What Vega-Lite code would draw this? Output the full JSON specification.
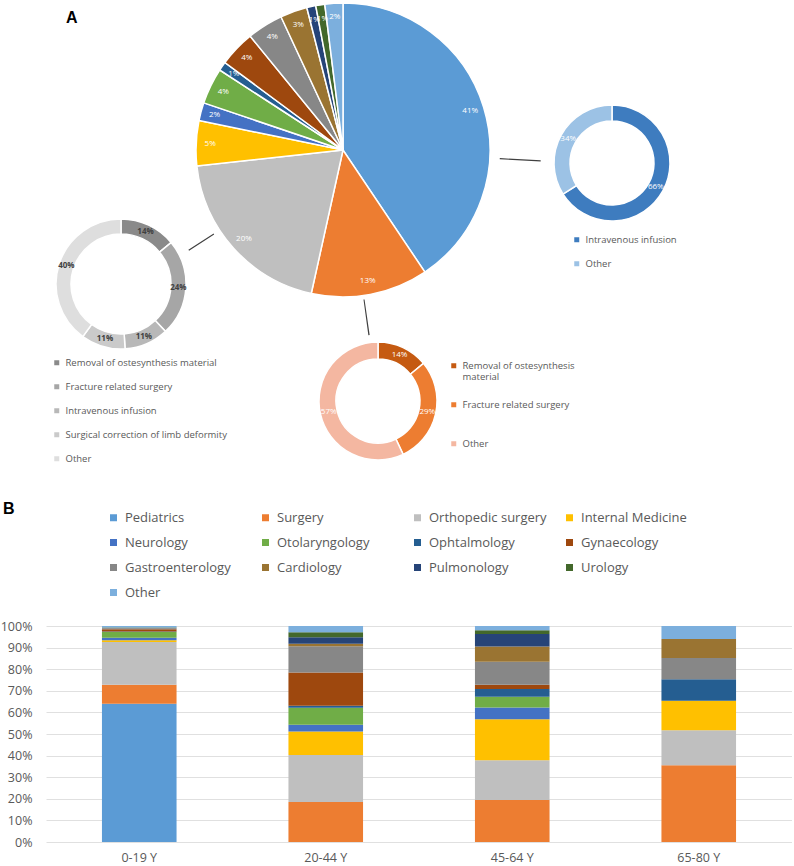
{
  "$schema": "https://vega.github.io/schema/vega-lite/v6.json",
  "padding": 0,
  "autosize": {"type": "pad"},
  "background": "white",
  "config": {
    "view": {"stroke": null},
    "font": "Open Sans",
    "legend": {"labelFont": "Open Sans", "titleFont": "Open Sans"},
    "axis": {"labelFont": "Open Sans"}
  },
  "datasets": {
    "main": [
      {"dept": "Pediatrics", "value": 41, "label": "41%"},
      {"dept": "Surgery", "value": 13, "label": "13%"},
      {"dept": "Orthopedic surgery", "value": 20, "label": "20%"},
      {"dept": "Internal Medicine", "value": 5, "label": "5%"},
      {"dept": "Neurology", "value": 2, "label": "2%"},
      {"dept": "Otolaryngology", "value": 4, "label": "4%"},
      {"dept": "Ophtalmology", "value": 1, "label": "1%"},
      {"dept": "Gynaecology", "value": 4, "label": "4%"},
      {"dept": "Gastroenterology", "value": 4, "label": "4%"},
      {"dept": "Cardiology", "value": 3, "label": "3%"},
      {"dept": "Pulmonology", "value": 1, "label": "1%"},
      {"dept": "Urology", "value": 1, "label": "1%"},
      {"dept": "Other", "value": 2, "label": "2%"}
    ],
    "ortho": [
      {"part": "Removal of ostesynthesis material", "value": 14, "label": "14%"},
      {"part": "Fracture related surgery", "value": 24, "label": "24%"},
      {"part": "Intravenous infusion", "value": 11, "label": "11%"},
      {"part": "Surgical correction of limb deformity", "value": 11, "label": "11%"},
      {"part": "Other", "value": 40, "label": "40%"}
    ],
    "surg": [
      {"part": "Removal of ostesynthesis material", "value": 14, "label": "14%"},
      {"part": "Fracture related surgery", "value": 29, "label": "29%"},
      {"part": "Other", "value": 57, "label": "57%"}
    ],
    "iv": [
      {"part": "Intravenous infusion", "value": 66, "label": "66%"},
      {"part": "Other", "value": 34, "label": "34%"}
    ],
    "bars": [
      {"age": "0-19 Y", "dept": "Pediatrics", "share": 64},
      {"age": "0-19 Y", "dept": "Surgery", "share": 8.8},
      {"age": "0-19 Y", "dept": "Orthopedic surgery", "share": 19.8},
      {"age": "0-19 Y", "dept": "Internal Medicine", "share": 0.8},
      {"age": "0-19 Y", "dept": "Neurology", "share": 1.2},
      {"age": "0-19 Y", "dept": "Otolaryngology", "share": 2.6},
      {"age": "0-19 Y", "dept": "Ophtalmology", "share": 0.3},
      {"age": "0-19 Y", "dept": "Gynaecology", "share": 1.0},
      {"age": "0-19 Y", "dept": "Gastroenterology", "share": 0.3},
      {"age": "0-19 Y", "dept": "Cardiology", "share": 0.2},
      {"age": "0-19 Y", "dept": "Pulmonology", "share": 0.1},
      {"age": "0-19 Y", "dept": "Urology", "share": 0.2},
      {"age": "0-19 Y", "dept": "Other", "share": 0.7},
      {"age": "20-44 Y", "dept": "Surgery", "share": 18.5},
      {"age": "20-44 Y", "dept": "Orthopedic surgery", "share": 21.8},
      {"age": "20-44 Y", "dept": "Internal Medicine", "share": 10.8},
      {"age": "20-44 Y", "dept": "Neurology", "share": 3.2},
      {"age": "20-44 Y", "dept": "Otolaryngology", "share": 7.9},
      {"age": "20-44 Y", "dept": "Ophtalmology", "share": 0.9},
      {"age": "20-44 Y", "dept": "Gynaecology", "share": 15.4},
      {"age": "20-44 Y", "dept": "Gastroenterology", "share": 12.1},
      {"age": "20-44 Y", "dept": "Cardiology", "share": 1.2},
      {"age": "20-44 Y", "dept": "Pulmonology", "share": 3.0},
      {"age": "20-44 Y", "dept": "Urology", "share": 2.3},
      {"age": "20-44 Y", "dept": "Other", "share": 2.9},
      {"age": "45-64 Y", "dept": "Surgery", "share": 19.5},
      {"age": "45-64 Y", "dept": "Orthopedic surgery", "share": 18.3},
      {"age": "45-64 Y", "dept": "Internal Medicine", "share": 19.0},
      {"age": "45-64 Y", "dept": "Neurology", "share": 5.5},
      {"age": "45-64 Y", "dept": "Otolaryngology", "share": 4.9},
      {"age": "45-64 Y", "dept": "Ophtalmology", "share": 3.6},
      {"age": "45-64 Y", "dept": "Gynaecology", "share": 2.0},
      {"age": "45-64 Y", "dept": "Gastroenterology", "share": 10.7},
      {"age": "45-64 Y", "dept": "Cardiology", "share": 7.0},
      {"age": "45-64 Y", "dept": "Pulmonology", "share": 5.8},
      {"age": "45-64 Y", "dept": "Urology", "share": 1.7},
      {"age": "45-64 Y", "dept": "Other", "share": 2.0},
      {"age": "65-80 Y", "dept": "Surgery", "share": 35.5},
      {"age": "65-80 Y", "dept": "Orthopedic surgery", "share": 16.2},
      {"age": "65-80 Y", "dept": "Internal Medicine", "share": 13.7},
      {"age": "65-80 Y", "dept": "Ophtalmology", "share": 10.0},
      {"age": "65-80 Y", "dept": "Gastroenterology", "share": 9.8},
      {"age": "65-80 Y", "dept": "Cardiology", "share": 8.8},
      {"age": "65-80 Y", "dept": "Other", "share": 6.0}
    ]
  },
  "resolve": {"scale": {"color": "independent"}, "legend": {"color": "independent"}},
  "align": "none",
  "spacing": -298,
  "vconcat": [
    {
      "resolve": {"scale": {"color": "independent"}, "legend": {"color": "independent"}},
      "align": "none",
      "spacing": -333,
      "vconcat": [
        {
          "width": 594,
          "height": 294,
          "layer": [
            {
              "data": {"name": "main"},
              "transform": [{"window": [{"op": "row_number", "as": "idx"}]}],
              "layer": [
                {
                  "mark": {"type": "arc", "outerRadius": 147, "stroke": "white", "strokeWidth": 1.5},
                  "encoding": {
                    "theta": {"field": "value", "type": "quantitative", "stack": true},
                    "order": {"field": "idx", "type": "quantitative"},
                    "color": {
                      "field": "dept", "type": "nominal",
                      "scale": {"domain": ["Pediatrics", "Surgery", "Orthopedic surgery", "Internal Medicine", "Neurology", "Otolaryngology", "Ophtalmology", "Gynaecology", "Gastroenterology", "Cardiology", "Pulmonology", "Urology", "Other"], "range": ["#5B9BD5", "#ED7D31", "#BFBFBF", "#FFC000", "#4472C4", "#70AD47", "#255E91", "#9E480E", "#878787", "#9A7432", "#264478", "#43682B", "#7CAFDD"]},
                      "legend": null
                    }
                  }
                },
                {
                  "mark": {"type": "text", "radius": 133, "fontSize": 8, "fill": "white"},
                  "encoding": {
                    "theta": {"field": "value", "type": "quantitative", "stack": true},
                    "order": {"field": "idx", "type": "quantitative"},
                    "detail": {"field": "dept", "type": "nominal"},
                    "text": {"field": "label", "type": "nominal"}
                  }
                }
              ]
            },
            {
              "data": {"values": [{"link": "Intravenous infusion"}]},
              "mark": {"type": "arc", "theta": 1.6225, "theta2": 1.6295, "innerRadius": 157, "outerRadius": 198, "fill": "#404040"},
              "encoding": {}
            },
            {
              "data": {"values": [{"link": "Orthopedic surgery"}]},
              "mark": {"type": "arc", "theta": 4.1325, "theta2": 4.1395, "innerRadius": 154, "outerRadius": 184, "fill": "#404040"},
              "encoding": {}
            },
            {
              "data": {"values": [{"link": "Surgery"}]},
              "mark": {"type": "arc", "theta": 2.9985, "theta2": 3.0055, "innerRadius": 151, "outerRadius": 187, "fill": "#404040"},
              "encoding": {}
            }
          ]
        },
        {
          "resolve": {"scale": {"color": "independent"}, "legend": {"color": "independent"}},
          "align": "none",
          "spacing": -562,
          "vconcat": [
            {
              "resolve": {"scale": {"color": "independent"}, "legend": {"color": "independent"}},
              "align": "none",
              "spacing": 293,
              "hconcat": [
                {
                  "width": 150,
                  "height": 562,
                  "title": {"text": "A", "anchor": "start", "frame": "group", "dx": 20, "offset": -36, "baseline": "alphabetic", "fontSize": 16, "fontWeight": "bold", "font": "Liberation Sans", "color": "black"},
                  "data": {"name": "ortho"},
                  "transform": [{"window": [{"op": "row_number", "as": "idx"}]}],
                  "layer": [
                    {
                      "mark": {"type": "arc", "outerRadius": 65, "innerRadius": 50, "stroke": "white", "strokeWidth": 1.5},
                      "encoding": {
                        "theta": {"field": "value", "type": "quantitative", "stack": true},
                        "order": {"field": "idx", "type": "quantitative"},
                        "color": {
                          "field": "part", "type": "nominal",
                          "scale": {"domain": ["Removal of ostesynthesis material", "Fracture related surgery", "Intravenous infusion", "Surgical correction of limb deformity", "Other"], "range": ["#8A8A8A", "#A6A6A6", "#B8B8B8", "#CACACA", "#DEDEDE"]},
                          "legend": {"orient": "none", "legendX": 6, "legendY": 355, "title": null, "labelFontSize": 9.5, "labelColor": "#595959", "symbolType": "square", "symbolSize": 25, "symbolStrokeWidth": 0, "rowPadding": 13, "labelOffset": 4, "labelLimit": 300}
                        }
                      }
                    },
                    {
                      "mark": {"type": "text", "radius": 57.5, "fontSize": 8, "fontWeight": "bold", "fill": "#404040"},
                      "encoding": {
                        "theta": {"field": "value", "type": "quantitative", "stack": true},
                        "order": {"field": "idx", "type": "quantitative"},
                        "detail": {"field": "part", "type": "nominal"},
                        "text": {"field": "label", "type": "nominal"}
                      }
                    }
                  ]
                },
                {
                  "width": 184,
                  "height": 320,
                  "data": {"name": "iv"},
                  "transform": [{"window": [{"op": "row_number", "as": "idx"}]}],
                  "layer": [
                    {
                      "mark": {"type": "arc", "outerRadius": 58, "innerRadius": 42, "stroke": "white", "strokeWidth": 1.5},
                      "encoding": {
                        "theta": {"field": "value", "type": "quantitative", "stack": true},
                        "order": {"field": "idx", "type": "quantitative"},
                        "color": {
                          "field": "part", "type": "nominal",
                          "scale": {"domain": ["Intravenous infusion", "Other"], "range": ["#3E7CBF", "#9CC2E5"]},
                          "legend": {"orient": "none", "legendX": 52, "legendY": 232, "title": null, "labelFontSize": 9.5, "labelColor": "#595959", "symbolType": "square", "symbolSize": 25, "symbolStrokeWidth": 0, "rowPadding": 13, "labelOffset": 4, "labelLimit": 300}
                        }
                      }
                    },
                    {
                      "mark": {"type": "text", "radius": 50, "fontSize": 8, "fill": "white"},
                      "encoding": {
                        "theta": {"field": "value", "type": "quantitative", "stack": true},
                        "order": {"field": "idx", "type": "quantitative"},
                        "detail": {"field": "part", "type": "nominal"},
                        "text": {"field": "label", "type": "nominal"}
                      }
                    }
                  ]
                }
              ]
            },
            {
              "width": 664,
              "height": 796,
              "data": {"name": "surg"},
              "transform": [{"window": [{"op": "row_number", "as": "idx"}]}],
              "layer": [
                {
                  "mark": {"type": "arc", "outerRadius": 59, "innerRadius": 42, "stroke": "white", "strokeWidth": 1.5},
                  "encoding": {
                    "theta": {"field": "value", "type": "quantitative", "stack": true},
                    "order": {"field": "idx", "type": "quantitative"},
                    "color": {
                      "field": "part", "type": "nominal",
                      "scale": {"domain": ["Removal of ostesynthesis material", "Fracture related surgery", "Other"], "range": ["#C55A11", "#ED7D31", "#F4B7A1"]},
                      "legend": {"orient": "none", "legendX": 403, "legendY": 358, "title": null, "labelFontSize": 9.5, "labelColor": "#595959", "symbolType": "square", "symbolSize": 25, "symbolStrokeWidth": 0, "rowPadding": 17, "gridAlign": "all", "labelOffset": 4, "labelLimit": 300,
                        "labelExpr": "datum.label == 'Removal of ostesynthesis material' ? ['Removal of ostesynthesis', 'material'] : datum.label"}
                    }
                  }
                },
                {
                  "mark": {"type": "text", "radius": 50.5, "fontSize": 8, "fill": "white"},
                  "encoding": {
                    "theta": {"field": "value", "type": "quantitative", "stack": true},
                    "order": {"field": "idx", "type": "quantitative"},
                    "detail": {"field": "part", "type": "nominal"},
                    "text": {"field": "label", "type": "nominal"}
                  }
                }
              ]
            }
          ]
        }
      ]
    },
    {
      "width": 746,
      "height": 216,
      "title": {"text": "B", "anchor": "start", "frame": "group", "dx": -43, "offset": -19, "baseline": "alphabetic", "fontSize": 16, "fontWeight": "bold", "font": "Liberation Sans", "color": "black"},
      "data": {"name": "bars"},
      "transform": [{"window": [{"op": "row_number", "as": "idx"}]}],
      "mark": {"type": "bar"},
      "encoding": {
        "x": {
          "field": "age", "type": "nominal", "sort": null,
          "scale": {"paddingInner": 0.6, "paddingOuter": 0.3},
          "axis": {"title": null, "labelAngle": 0, "ticks": false, "domain": false, "labelFontSize": 12.5, "labelColor": "#595959", "labelPadding": 9}
        },
        "y": {
          "field": "share", "type": "quantitative", "stack": "normalize",
          "scale": {"domain": [0, 1]},
          "axis": {"title": null, "format": ".0%", "values": [0, 0.1, 0.2, 0.3, 0.4, 0.5, 0.6, 0.7, 0.8, 0.9, 1], "ticks": false, "domain": false, "gridColor": "#E0E0E0", "labelFontSize": 12.5, "labelColor": "#595959", "labelPadding": 14}
        },
        "order": {"field": "idx", "type": "quantitative"},
        "color": {
          "field": "dept", "type": "nominal",
          "scale": {"domain": ["Pediatrics", "Surgery", "Orthopedic surgery", "Internal Medicine", "Neurology", "Otolaryngology", "Ophtalmology", "Gynaecology", "Gastroenterology", "Cardiology", "Pulmonology", "Urology", "Other"], "range": ["#5B9BD5", "#ED7D31", "#BFBFBF", "#FFC000", "#4472C4", "#70AD47", "#255E91", "#9E480E", "#878787", "#9A7432", "#264478", "#43682B", "#7CAFDD"]},
          "legend": {"orient": "none", "legendX": 61, "legendY": -115, "direction": "horizontal", "columns": 4, "gridAlign": "all", "columnPadding": 16, "rowPadding": 11, "title": null, "symbolType": "square", "symbolSize": 49, "symbolStrokeWidth": 0, "labelFontSize": 13, "labelColor": "#595959", "labelOffset": 5, "labelLimit": 300}
        }
      }
    }
  ]
}
